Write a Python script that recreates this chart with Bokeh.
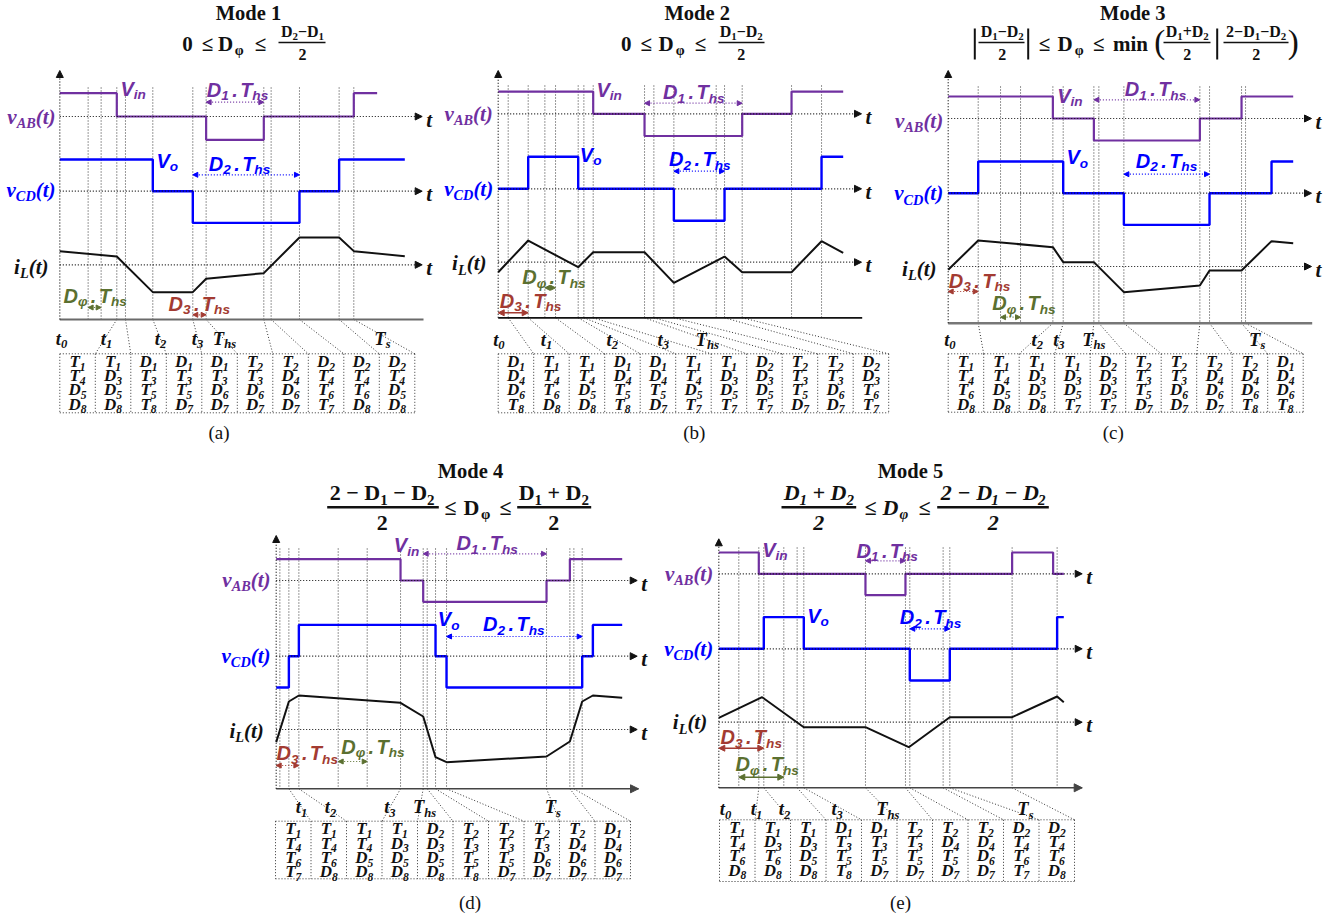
import numpy as np
from bokeh.plotting import figure
from bokeh.models import Range1d, ColumnDataSource, Arrow, NormalHead
from bokeh.core.properties import value
from bokeh.embed import file_html
from bokeh.resources import INLINE

# ===================== DATA =====================
# times in waveform time-units (t.u.) counted from t0 of each panel
# voltage levels in {+1, 0, -1}; inductor current iL in t.u.-scaled amplitude
# ---- (a) Mode 1
A_EVENTS = [85, 124, 171, 197, 279, 399, 439, 612, 634, 719, 838, 882]
A_VAB_T = [0, 171, 439, 612, 882, 952]
A_VAB_LV = [1, 0, -1, 0, 1]
A_VCD_T = [0, 279, 399, 719, 838, 1035]
A_VCD_LV = [1, 0, -1, 0, 1]
A_IL_T = [0, 171, 279, 399, 439, 612, 719, 838, 882, 1035]
A_IL_V = [41, 25, -82, -82, -42, -25, 82, 82, 41, 26]
A_FAN = [171, 197, 279, 399, 439, 612, 634, 719, 838, 882]
A_SPANS = {"D1": [439, 612], "D2": [399, 719], "Dphi": [85, 124], "D3": [399, 439]}
A_TICKS = ["t0", "t1", "t2", "t3", "Ths", "Ts"]
A_TICK_T = [5, 140, 302, 413, 494, 968]
A_TABLE = [["T1", "T4", "D5", "D8"], ["T1", "D3", "D5", "D8"], ["D1", "T3", "T5", "T8"],
           ["D1", "T3", "T5", "D7"], ["D1", "T3", "D6", "D7"], ["T2", "T3", "D6", "D7"],
           ["T2", "D4", "D6", "D7"], ["D2", "T4", "T6", "T7"], ["D2", "T4", "T6", "D8"],
           ["D2", "T4", "D5", "D8"]]
# ---- (b) Mode 2
B_EVENTS = [30, 90, 140, 172, 240, 257, 285, 439, 467, 527, 654, 679, 732, 880, 970]
B_VAB_T = [0, 285, 439, 732, 880, 1035]
B_VAB_LV = [1, 0, -1, 0, 1]
B_VCD_T = [0, 90, 240, 527, 679, 970, 1035]
B_VCD_LV = [0, 1, 0, -1, 0, 1]
B_IL_T = [0, 90, 240, 285, 439, 527, 679, 732, 880, 970, 1035]
B_IL_V = [-30, 65, -15, 30, 30, -62, 17, -30, -30, 63, 28]
B_FAN = [30, 90, 172, 240, 257, 285, 439, 467, 527, 679, 732]
B_SPANS = {"D1": [439, 732], "D2": [527, 679], "Dphi": [140, 172], "D3": [0, 90]}
B_TICKS = ["t0", "t1", "t2", "t3", "Ths"]
B_TICK_T = [2, 145, 342, 495, 627]
B_TABLE = [["D1", "D4", "D6", "T8"], ["T1", "T4", "T6", "D8"], ["T1", "T4", "D5", "D8"],
           ["D1", "D4", "T5", "T8"], ["D1", "D4", "T5", "D7"], ["T1", "T4", "D5", "T7"],
           ["T1", "D3", "D5", "T7"], ["D2", "D3", "D5", "T7"], ["T2", "T3", "T5", "D7"],
           ["T2", "T3", "D6", "D7"], ["D2", "D3", "T6", "T7"]]
# ---- (c) Mode 3
C_EVENTS = [90, 157, 217, 314, 345, 437, 452, 527, 755, 784, 880, 892]
C_VAB_T = [0, 314, 437, 755, 880, 1035]
C_VAB_LV = [1, 0, -1, 0, 1]
C_VCD_T = [0, 90, 345, 527, 784, 970, 1035]
C_VCD_LV = [0, 1, 0, -1, 0, 1]
C_IL_T = [0, 90, 314, 345, 437, 527, 755, 784, 880, 970, 1035]
C_IL_V = [-10, 78, 58, 13, 13, -77, -57, -12, -12, 76, 70]
C_FAN = [90, 314, 345, 437, 452, 527, 755, 784, 880, 892]
C_SPANS = {"D1": [437, 755], "D2": [527, 784], "Dphi": [157, 217], "D3": [0, 90]}
C_TICKS = ["t0", "t2", "t3", "Ths", "Ts"]
C_TICK_T = [5, 267, 332, 437, 927]
C_TABLE = [["T1", "T4", "T6", "D8"], ["T1", "T4", "D5", "D8"], ["T1", "D3", "D5", "D8"],
           ["T1", "D3", "D5", "T7"], ["D2", "D3", "D5", "T7"], ["T2", "T3", "T5", "D7"],
           ["T2", "T3", "D6", "D7"], ["T2", "D4", "D6", "D7"], ["T2", "D4", "D6", "T8"],
           ["D1", "D4", "D6", "T8"]]
# ---- (d) Mode 4
D_EVENTS = [11, 38, 68, 186, 273, 373, 441, 453, 478, 511, 811, 881, 893, 918]
D_VAB_T = [0, 373, 441, 811, 881, 1038]
D_VAB_LV = [1, 0, -1, 0, 1]
D_VCD_T = [0, 38, 68, 478, 511, 918, 950, 1038]
D_VCD_LV = [-1, 0, 1, 0, -1, 0, 1]
D_IL_T = [0, 38, 68, 373, 441, 478, 511, 811, 881, 918, 950, 1038]
D_IL_V = [-38, 84, 102, 80, 39, -83, -98, -81, -36, 84, 102, 95]
D_FAN = [38, 68, 373, 441, 453, 478, 511, 811, 881, 893]
D_SPANS = {"D1": [441, 811], "D2": [511, 918], "Dphi": [186, 273], "D3": [0, 68]}
D_TICKS = ["t1", "t2", "t3", "Ths", "Ts"]
D_TICK_T = [76, 163, 341, 445, 830]
D_TABLE = [["T1", "T4", "T6", "T7"], ["T1", "T4", "T6", "D8"], ["T1", "T4", "D5", "D8"],
           ["T1", "D3", "D5", "D8"], ["D2", "D3", "D5", "D8"], ["T2", "T3", "T5", "T8"],
           ["T2", "T3", "T5", "D7"], ["T2", "T3", "D6", "D7"], ["T2", "D4", "D6", "D7"],
           ["D1", "D4", "D6", "D7"]]
# ---- (e) Mode 5
E_EVENTS = [60, 120, 135, 195, 235, 255, 440, 560, 573, 673, 693, 880, 1015]
E_VAB_T = [0, 120, 440, 560, 880, 1003, 1035]
E_VAB_LV = [1, 0, -1, 0, 1, 0]
E_VCD_T = [0, 135, 255, 573, 693, 1015, 1035]
E_VCD_LV = [0, 1, 0, -1, 0, 1]
E_IL_T = [0, 130, 255, 440, 570, 693, 880, 1015, 1035]
E_IL_V = [13, 75, -15, -15, -75, 15, 15, 77, 60]
E_FAN = [120, 135, 235, 255, 440, 560, 573, 673, 693, 880]
E_SPANS = {"D1": [440, 560], "D2": [573, 693], "Dphi": [60, 195], "D3": [0, 135]}
E_TICKS = ["t0", "t1", "t2", "t3", "Ths", "Ts"]
E_TICK_T = [20, 113, 197, 355, 507, 920]
E_TABLE = [["T1", "T4", "T6", "D8"], ["T1", "D3", "T6", "D8"], ["T1", "D3", "D5", "D8"],
           ["D1", "T3", "T5", "T8"], ["D1", "T3", "T5", "D7"], ["T2", "T3", "T5", "D7"],
           ["T2", "D4", "T5", "D7"], ["T2", "D4", "D6", "D7"], ["D2", "T4", "T6", "T7"],
           ["D2", "T4", "T6", "D8"]]

TITLES = {"a": "Mode 1", "b": "Mode 2", "c": "Mode 3", "d": "Mode 4", "e": "Mode 5"}

DATA = {}
for k, pre in zip("abcde", "ABCDE"):
    g = globals()
    DATA[k] = dict(events=g[pre + "_EVENTS"], vab_t=g[pre + "_VAB_T"], vab_lv=g[pre + "_VAB_LV"],
                   vcd_t=g[pre + "_VCD_T"], vcd_lv=g[pre + "_VCD_LV"], il_t=g[pre + "_IL_T"],
                   il_v=g[pre + "_IL_V"], fan=g[pre + "_FAN"], spans=g[pre + "_SPANS"],
                   ticks=g[pre + "_TICKS"], tick_t=g[pre + "_TICK_T"], table=g[pre + "_TABLE"])

# ===================== LAYOUT (page pixels) =====================
TU = 1 / 3.0
COLW = 35.5
GEOM = {
    "a": dict(x0=59.3, ytop=70, ygrid=87, yvab=116, yvcd=190.7, yil=264.3, ybot=319, xarr=421.7,
              xbot=423, avab=23.3, avcd=31.7, ticky=338, tl=59.3, tt=353.3, tb=412.3,
              bcol="#6a6a6a", bw=2.0, barrow=False),
    "b": dict(x0=497.7, ytop=70, ygrid=85, yvab=113.3, yvcd=188.3, yil=261.7, ybot=317.3, xarr=861,
              xbot=861.7, avab=22.2, avcd=32, ticky=339, tl=497.7, tt=353.3, tb=412.3,
              bcol="#111111", bw=1.8, barrow=False),
    "c": dict(x0=947.7, ytop=70, ygrid=86, yvab=118, yvcd=192.7, yil=266, ybot=322.7, xarr=1311,
              xbot=1311.7, avab=22, avcd=31.7, ticky=339, tl=947.7, tt=353.3, tb=411.7,
              bcol="#777777", bw=2.5, barrow=False),
    "d": dict(x0=275.7, ytop=535, ygrid=548, yvab=580, yvcd=655.7, yil=729, ybot=788.3, xarr=636.7,
              xbot=638, avab=21.3, avcd=31.3, ticky=806.7, tl=275, tt=820.7, tb=878.3,
              bcol="#444444", bw=1.5, barrow=True),
    "e": dict(x0=718.3, ytop=538.3, ygrid=547, yvab=573.3, yvcd=648.3, yil=721.7, ybot=787.3,
              xarr=1081.7, xbot=1081.7, avab=21.3, avcd=31.7, ticky=808.3, tl=719, tt=819.3,
              tb=881, bcol="#444444", bw=1.5, barrow=True),
}
ANN = {
    "a": dict(vin=(120, 88), vo=(156, 160), D1=(237, 89, 101.7), D2=(239, 163, 174.3),
              Dphi=(63, 295, 307), D3=(168, 303, 314.3), lab=((55, 116), (55, 189), (48, 266)),
              cap=(219, 432), title=(248, 12.7), solid=()),
    "b": dict(vin=(596, 89), vo=(579.3, 154), D1=(693.3, 91.7, 102.7), D2=(699.3, 158.3, 170.7),
              Dphi=(521.7, 276.7, 287.3), D3=(499.3, 300, 312.3),
              lab=((492.3, 113), (492.7, 188), (486, 262.7)), cap=(694.3, 432), title=(696.7, 12.7),
              solid=("D3",)),
    "c": dict(vin=(1056.7, 95), vo=(1066, 156.7), D1=(1155, 88.3, 99.3), D2=(1166, 160, 173.7),
              Dphi=(991.7, 302.7, 316.7), D3=(948.3, 280, 291),
              lab=((942.7, 120), (942.7, 192.7), (936, 268)), cap=(1112.7, 432), title=(1132.3, 12.7),
              solid=()),
    "d": dict(vin=(393.3, 544.3), vo=(437.3, 618.3), D1=(486.7, 542.3, 553.3), D2=(513.3, 623.3, 636),
              Dphi=(340.7, 746, 761), D3=(276, 752.7, 765),
              lab=((270, 579), (270, 655), (263.3, 730)), cap=(470, 901.7), title=(470, 470), solid=()),
    "e": dict(vin=(761.7, 549), vo=(806.7, 615), D1=(886.7, 550, 560.3), D2=(930, 616.7, 628.3),
              Dphi=(735, 763.3, 776.7), D3=(720, 736.7, 747.7),
              lab=((712.7, 573), (712.7, 648), (706.7, 721.7)), cap=(900, 901.7), title=(910, 470),
              solid=("D3", "Dphi")),
}

PURPLE = "#7030A0"; BLUE = "#0000FF"; RED = "#A33B32"; GREEN = "#5B7030"
INK = "#111111"; DOTC = "#333333"
SERIF = "Liberation Serif"; SANS = "Liberation Sans"

# ===================== helpers =====================
W_SERIF = {'T': 611, 'D': 722, 'V': 667, 'A': 667, 'B': 667, 'C': 667, 'L': 611, 'M': 944,
           't': 278, 'v': 444, 'i': 278, 's': 389, 'h': 556, 'n': 556, 'o': 500, 'd': 556,
           'e': 444, 'm': 833, 'a': 500, 'b': 556, 'c': 444, '(': 333, ')': 333, '.': 250,
           ' ': 250, 'φ': 600, '≤': 549, '−': 570, '+': 570, '|': 220}
W_SANS = {'D': 722, 'T': 611, 'V': 667, 'i': 278, 'n': 611, 'o': 611, 'h': 611, 's': 556,
          '.': 278, ' ': 278, 'φ': 700}


def tw(s, font):
    tab = W_SANS if font == SANS else W_SERIF
    dig = 556 if font == SANS else 500
    return sum(dig if ch.isdigit() else tab.get(ch, 520) for ch in s) / 1000.0


TXT = {}


def put(x, y, s, font, size, style, color):
    key = (font, round(size, 1), style, color)
    d = TXT.setdefault(key, {"x": [], "y": [], "text": []})
    d["x"].append(float(x)); d["y"].append(float(y)); d["text"].append(s)


def rich(x, y, parts, font, size, style, color, align="left", sub=0.68, drop=0.31):
    """y is the visual middle of the main-size text; parts: (text, 0 main | 1 subscript | 2 spacer[em])"""
    ws = []
    for s, b in parts:
        if b == 2:
            ws.append(s * size)
        else:
            ws.append(tw(s, font) * size * (sub if b else 1.0))
    tot = sum(ws)
    if align == "right":
        x -= tot
    elif align == "center":
        x -= tot / 2
    for (s, b), w in zip(parts, ws):
        if b != 2:
            fs = size * sub if b else size
            lead = len(s) - len(s.lstrip(" "))
            core = s.strip(" ")
            if core:
                put(x + tw(" " * lead, font) * fs, y + (drop * size if b else 0), core, font, fs,
                    style, color)
        x += w
    return tot


def sym(s):
    return [(s[0], 0), (s[1:], 1)] if len(s) > 1 else [(s, 0)]


def fparts(s):
    out = []; prev = ""
    for ch in s:
        isub = (ch.isdigit() and prev == "D") or ch == "φ"
        if out and out[-1][1] == isub:
            out[-1] = (out[-1][0] + ch, isub)
        else:
            out.append((ch, isub))
        prev = ch
    return out


DOTS = {"xs": [], "ys": []}
RULES = {"xs": [], "ys": [], "w": []}
AXA = {"x0": [], "y0": [], "x1": [], "y1": []}


def dot(x0, y0, x1, y1):
    DOTS["xs"].append([float(x0), float(x1)]); DOTS["ys"].append([float(y0), float(y1)])


def axis_arrow(x0, y0, x1, y1):
    for k2, v in zip(("x0", "y0", "x1", "y1"), (x0, y0, x1, y1)):
        AXA[k2].append(float(v))


def rule(x0, y0, x1, y1, w):
    RULES["xs"].append([x0, x1]); RULES["ys"].append([y0, y1]); RULES["w"].append(w)


def frac(xc, ybar, x0, x1, num, den, size, style, lw):
    rich(xc, ybar - 0.66 * size, fparts(num), SERIF, size, style, INK, "center")
    rich(xc, ybar + 0.72 * size, fparts(den), SERIF, size, style, INK, "center")
    rule(x0, ybar, x1, ybar, lw)


def glyphs(y, items, size, style):
    for s, xc, b in items:
        if b:
            rich(xc, y + 0.31 * size, [(s, 0)], SERIF, size * 0.68, style, INK, "center")
        else:
            rich(xc, y, [(s, 0)], SERIF, size, style, INK, "center")


def step(tb, lv):
    xs, ys = [], []
    for i, l in enumerate(lv):
        xs += [tb[i], tb[i + 1]]; ys += [l, l]
    return np.array(xs, float), np.array(ys, float)


# ===================== figure =====================
W, H = 1340, 915
p = figure(width=W, height=H, x_range=Range1d(0, W), y_range=Range1d(H, 0),
           output_backend="svg", toolbar_location=None, min_border=0,
           x_axis_location=None, y_axis_location=None)
p.xgrid.grid_line_color = None
p.ygrid.grid_line_color = None
p.outline_line_color = None
p.background_fill_color = "white"
p.border_fill_color = "white"

SEP = [(0.17, 2), (".", 0), (0.12, 2)]
WAVES = []
DIMS = []
BOTTOM = []
for k in "abcde":
    D = DATA[k]; g = GEOM[k]; an = ANN[k]
    X = lambda t, g=g: g["x0"] + np.asarray(t, float) * TU
    for t in D["events"]:
        dot(X(t), g["ygrid"], X(t), g["ybot"])
    axis_arrow(g["x0"], g["ybot"], g["x0"], g["ytop"])
    for y0 in (g["yvab"], g["yvcd"], g["yil"]):
        axis_arrow(g["x0"], y0, g["xarr"], y0)
        rich(g["xarr"] + 4, y0 + 3, [("t", 0)], SERIF, 21, "bold italic", INK)
    BOTTOM.append((g["x0"], g["xbot"], g["ybot"], g["bcol"], g["bw"], g["barrow"]))
    # waveforms
    sx, sl = step(D["vab_t"], D["vab_lv"])
    WAVES.append((X(sx), g["yvab"] - sl * g["avab"], PURPLE, 2.2))
    sx, sl = step(D["vcd_t"], D["vcd_lv"])
    WAVES.append((X(sx), g["yvcd"] - sl * g["avcd"], BLUE, 2.4))
    WAVES.append((X(D["il_t"]), g["yil"] - np.array(D["il_v"], float) * TU, INK, 2.0))
    # table
    n = len(D["table"])
    bounds = g["tl"] + COLW * np.arange(n + 1)
    top, bot = g["tt"], g["tb"]
    dot(bounds[0], top, bounds[-1], top); dot(bounds[0], bot, bounds[-1], bot)
    for bx in bounds:
        dot(bx, top, bx, bot)
    for i, col in enumerate(D["table"]):
        xc = (bounds[i] + bounds[i + 1]) / 2
        for r, s in enumerate(col):
            rich(xc, top + 7.5 + 14.3 * r, sym(s), SERIF, 17, "bold italic", INK, "center")
    for t, bx in zip(D["fan"], bounds[1:]):
        dot(X(t), g["ybot"], bx, top)
    # tick labels
    for name, t in zip(D["ticks"], D["tick_t"]):
        rich(X(t), g["ticky"], sym(name), SERIF, 18.5, "bold italic", INK, "center")
    # axis labels
    (xa, ya), (xc_, yc_), (xi, yi) = an["lab"]
    rich(xa, ya, [("v", 0), ("AB", 1), ("(t)", 0)], SERIF, 21, "bold italic", PURPLE, "right")
    rich(xc_, yc_, [("v", 0), ("CD", 1), ("(t)", 0)], SERIF, 21, "bold italic", BLUE, "right")
    rich(xi, yi, [("i", 0), ("L", 1), ("(t)", 0)], SERIF, 21, "bold italic", INK, "right")
    # annotations
    rich(an["vin"][0], an["vin"][1], [("V", 0), ("in", 1)], SANS, 20, "bold italic", PURPLE)
    rich(an["vo"][0], an["vo"][1], [("V", 0), ("o", 1)], SANS, 20, "bold italic", BLUE)
    for key, col, sub, align in (("D1", PURPLE, "1", "center"), ("D2", BLUE, "2", "center"),
                                 ("Dphi", GREEN, "φ", "left"), ("D3", RED, "3", "left")):
        xt, yt, ya2 = an[key]
        rich(xt, yt, [("D", 0), (sub, 1)] + SEP + [("T", 0), ("hs", 1)], SANS, 20,
             "bold italic", col, align)
        t0, t1 = D["spans"][key]
        DIMS.append((float(X(t0)), float(X(t1)), ya2, col, key in an["solid"]))
    rich(an["cap"][0], an["cap"][1], [("(" + k + ")", 0)], SERIF, 19, "normal", INK, "center")
    rich(an["title"][0], an["title"][1], [(TITLES[k], 0)], SERIF, 20.5, "bold", INK, "center")

# ---------- formulas ----------
FS = 16
glyphs(43, [("0", 187, 0), ("≤", 207, 0), ("D", 225, 0), ("φ", 238.5, 1), ("≤", 260, 0)], 21, "bold")
frac(302, 42, 278, 325, "D2−D1", "2", FS, "bold", 1.6)
glyphs(43, [("0", 625.7, 0), ("≤", 645.7, 0), ("D", 665.5, 0), ("φ", 679.5, 1), ("≤", 700, 0)], 21,
       "bold")
frac(740.7, 42, 718, 764, "D1−D2", "2", FS, "bold", 1.6)
for xb in (974.3, 1027.7, 1216.7):
    rule(xb, 28, xb, 59, 2.0)
frac(1001.7, 42, 978, 1024, "D1−D2", "2", FS, "bold", 1.6)
glyphs(43, [("≤", 1044, 0), ("D", 1064.5, 0), ("φ", 1078.5, 1), ("≤", 1098.3, 0), ("min", 1130, 0)],
       21, "bold")
rich(1159.3, 41, [("(", 0)], SERIF, 33, "normal", INK, "center")
frac(1186.7, 42, 1163, 1210, "D1+D2", "2", FS, "bold", 1.6)
frac(1255.7, 42, 1223, 1288, "2−D1−D2", "2", FS, "bold", 1.6)
rich(1292.7, 41, [(")", 0)], SERIF, 33, "normal", INK, "center")
frac(381.7, 506.7, 326.7, 438.3, "2 − D1 − D2", "2", 22, "bold", 2.5)
glyphs(506.7, [("≤", 450, 0), ("D", 471, 0), ("φ", 485, 1), ("≤", 505, 0)], 22, "bold")
frac(553.3, 506.7, 516.7, 590.7, "D1 + D2", "2", 22, "bold", 2.5)
frac(818.3, 506.7, 781, 855.7, "D1 + D2", "2", 22, "bold italic", 2.5)
glyphs(506.7, [("≤", 870, 0), ("D", 890, 0), ("φ", 903.5, 1), ("≤", 924, 0)], 22, "bold italic")
frac(992.7, 506.7, 936.7, 1048.3, "2 − D1 − D2", "2", 22, "bold italic", 2.5)

# ===================== render =====================
p.multi_line(xs="xs", ys="ys", source=ColumnDataSource(DOTS), line_color=DOTC, line_width=1,
             line_dash="1 2")
for x0, x1, yb, col, bw, arr in BOTTOM:
    p.line([x0, x1], [yb, yb], line_color=col, line_width=bw)
    if arr:
        p.add_layout(Arrow(end=NormalHead(size=8, fill_color=col, line_color=col),
                           x_start=x1 - 2, y_start=yb, x_end=x1, y_end=yb,
                           line_color=col, line_width=bw))
p.add_layout(Arrow(end=NormalHead(size=7, fill_color=INK, line_color=INK),
                   x_start="x0", y_start="y0", x_end="x1", y_end="y1",
                   source=ColumnDataSource(AXA), line_color=INK, line_width=1.2, line_dash="1 2"))
for xs, ys, col, lw in WAVES:
    p.line(xs, ys, line_color=col, line_width=lw)
for x0, x1, ya, col, solid in DIMS:
    hs = 6 if solid else 5
    p.add_layout(Arrow(start=NormalHead(size=hs, fill_color=col, line_color=col),
                       end=NormalHead(size=hs, fill_color=col, line_color=col),
                       x_start=x0, y_start=ya, x_end=x1, y_end=ya, line_color=col,
                       line_width=1.6 if solid else 1.2, line_dash="solid" if solid else "1 2"))
p.multi_line(xs="xs", ys="ys", line_width="w", source=ColumnDataSource(RULES), line_color=INK)

for (font, size, style, color), d in TXT.items():
    p.text(x="x", y="y", text="text", source=ColumnDataSource(d), text_font=value(font),
           text_font_size=value(f"{size}px"), text_font_style=style, text_color=color,
           text_align="left", text_baseline="middle")

open("out.html", "w").write(file_html(p, INLINE))
